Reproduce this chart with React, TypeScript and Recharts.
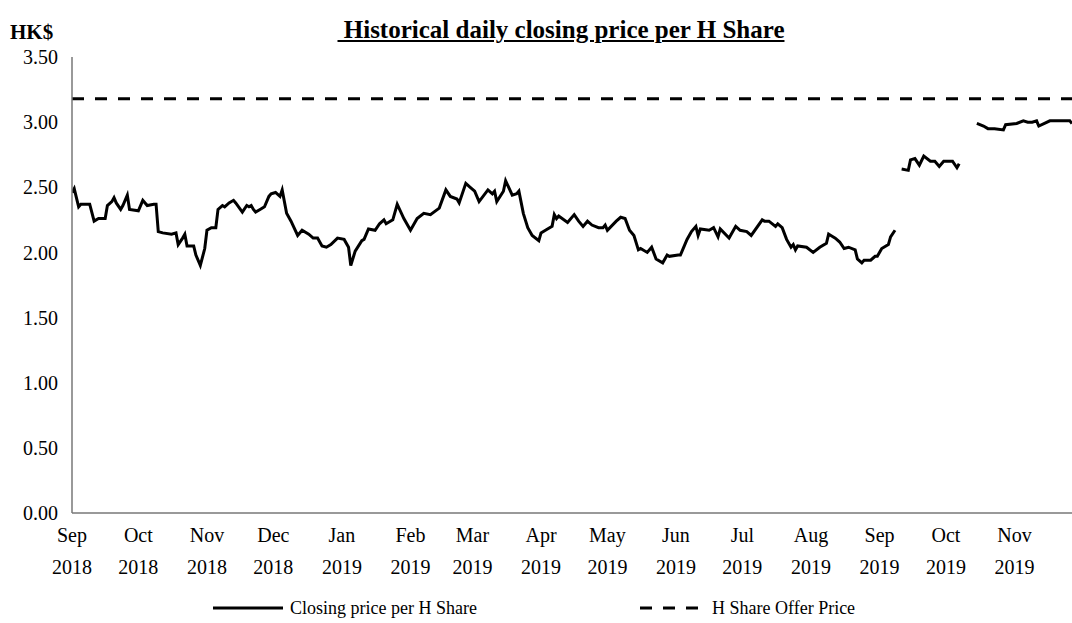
import React from "react";
import { LineChart, Line, XAxis, YAxis, ReferenceLine, Legend } from "recharts";

const FONT = "'Liberation Serif', 'Times New Roman', serif";

// closing price per H share (null = no trading / gap)
const DATES = [
  "2018-09-01", "2018-09-02", "2018-09-04", "2018-09-05", "2018-09-09", "2018-09-11", "2018-09-13", "2018-09-16",
  "2018-09-17", "2018-09-19", "2018-09-20", "2018-09-21", "2018-09-23", "2018-09-24", "2018-09-26", "2018-09-27",
  "2018-10-01", "2018-10-03", "2018-10-05", "2018-10-08", "2018-10-09", "2018-10-10", "2018-10-12", "2018-10-16",
  "2018-10-18", "2018-10-19", "2018-10-21", "2018-10-22", "2018-10-23", "2018-10-26", "2018-10-27", "2018-10-29",
  "2018-10-31", "2018-11-01", "2018-11-03", "2018-11-05", "2018-11-06", "2018-11-08", "2018-11-09", "2018-11-11",
  "2018-11-13", "2018-11-14", "2018-11-17", "2018-11-19", "2018-11-20", "2018-11-21", "2018-11-22", "2018-11-23",
  "2018-11-25", "2018-11-27", "2018-11-29", "2018-11-30", "2018-12-02", "2018-12-04", "2018-12-05", "2018-12-07",
  "2018-12-09", "2018-12-12", "2018-12-14", "2018-12-17", "2018-12-19", "2018-12-21", "2018-12-23", "2018-12-25",
  "2018-12-27", "2018-12-30", "2019-01-02", "2019-01-04", "2019-01-05", "2019-01-07", "2019-01-10", "2019-01-11",
  "2019-01-13", "2019-01-16", "2019-01-18", "2019-01-20", "2019-01-21", "2019-01-24", "2019-01-26", "2019-01-29",
  "2019-02-01", "2019-02-04", "2019-02-07", "2019-02-10", "2019-02-14", "2019-02-17", "2019-02-19", "2019-02-22",
  "2019-02-23", "2019-02-26", "2019-02-28", "2019-03-02", "2019-03-04", "2019-03-08", "2019-03-10", "2019-03-11",
  "2019-03-12", "2019-03-15", "2019-03-16", "2019-03-19", "2019-03-21", "2019-03-22", "2019-03-24", "2019-03-26",
  "2019-03-28", "2019-03-31", "2019-04-01", "2019-04-03", "2019-04-06", "2019-04-07", "2019-04-08", "2019-04-09",
  "2019-04-13", "2019-04-16", "2019-04-18", "2019-04-20", "2019-04-22", "2019-04-24", "2019-04-27", "2019-04-29",
  "2019-04-30", "2019-05-01", "2019-05-05", "2019-05-07", "2019-05-09", "2019-05-11", "2019-05-13", "2019-05-15",
  "2019-05-16", "2019-05-19", "2019-05-21", "2019-05-23", "2019-05-26", "2019-05-28", "2019-05-29", "2019-06-02",
  "2019-06-03", "2019-06-04", "2019-06-06", "2019-06-08", "2019-06-10", "2019-06-11", "2019-06-12", "2019-06-16",
  "2019-06-18", "2019-06-20", "2019-06-21", "2019-06-25", "2019-06-28", "2019-06-30", "2019-07-03", "2019-07-05",
  "2019-07-10", "2019-07-11", "2019-07-13", "2019-07-16", "2019-07-17", "2019-07-19", "2019-07-21", "2019-07-23",
  "2019-07-24", "2019-07-25", "2019-07-26", "2019-07-30", "2019-08-02", "2019-08-05", "2019-08-08", "2019-08-09",
  "2019-08-10", "2019-08-12", "2019-08-14", "2019-08-16", "2019-08-18", "2019-08-21", "2019-08-22", "2019-08-24",
  "2019-08-25", "2019-08-28", "2019-08-30", "2019-08-31", "2019-09-02", "2019-09-05", "2019-09-06", "2019-09-08",
  "2019-09-09",
  "2019-09-11", "2019-09-14", "2019-09-15", "2019-09-17", "2019-09-19", "2019-09-21", "2019-09-24", "2019-09-26",
  "2019-09-28", "2019-09-30", "2019-10-03", "2019-10-04", "2019-10-06", "2019-10-07",
  "2019-10-10",
  "2019-10-15", "2019-10-18", "2019-10-20", "2019-10-23", "2019-10-27", "2019-10-28", "2019-11-02", "2019-11-05",
  "2019-11-07", "2019-11-09", "2019-11-11", "2019-11-12", "2019-11-17", "2019-11-26", "2019-11-27",
];

const PRICES = [
  2.46, 2.49, 2.35, 2.37, 2.37, 2.24, 2.26, 2.26,
  2.36, 2.39, 2.42, 2.38, 2.33, 2.36, 2.44, 2.33,
  2.32, 2.40, 2.36, 2.37, 2.37, 2.16, 2.15, 2.14,
  2.15, 2.06, 2.11, 2.14, 2.05, 2.05, 1.98, 1.90,
  2.03, 2.17, 2.19, 2.19, 2.33, 2.36, 2.35, 2.38,
  2.40, 2.38, 2.31, 2.36, 2.35, 2.36, 2.33, 2.31,
  2.33, 2.35, 2.43, 2.45, 2.46, 2.43, 2.48, 2.30,
  2.24, 2.13, 2.17, 2.14, 2.11, 2.11, 2.05, 2.04,
  2.06, 2.11, 2.10, 2.04, 1.90, 2.01, 2.09, 2.10,
  2.18, 2.17, 2.22, 2.25, 2.22, 2.25, 2.37, 2.26,
  2.17, 2.26, 2.30, 2.29, 2.34, 2.48, 2.43, 2.41,
  2.38, 2.53, 2.50, 2.47, 2.39, 2.48, 2.45, 2.47,
  2.39, 2.47, 2.55, 2.44, 2.45, 2.47, 2.30, 2.19,
  2.13, 2.09, 2.15, 2.17, 2.20, 2.29, 2.26, 2.28,
  2.23, 2.29, 2.24, 2.20, 2.24, 2.21, 2.19, 2.19,
  2.21, 2.17, 2.24, 2.27, 2.26, 2.17, 2.13, 2.02,
  2.03, 2.00, 2.04, 1.95, 1.92, 1.98, 1.97, 1.98,
  1.98, 2.02, 2.10, 2.16, 2.20, 2.13, 2.18, 2.17,
  2.19, 2.12, 2.18, 2.11, 2.20, 2.17, 2.16, 2.13,
  2.25, 2.24, 2.24, 2.20, 2.22, 2.19, 2.10, 2.04,
  2.06, 2.02, 2.05, 2.04, 2.00, 2.04, 2.07, 2.14,
  2.13, 2.11, 2.08, 2.03, 2.04, 2.02, 1.95, 1.92,
  1.94, 1.94, 1.97, 1.97, 2.03, 2.06, 2.12, 2.17,
  null,
  2.64, 2.63, 2.71, 2.72, 2.67, 2.74, 2.70, 2.70,
  2.66, 2.70, 2.70, 2.70, 2.65, 2.68,
  null,
  2.99, 2.97, 2.95, 2.95, 2.94, 2.98, 2.99, 3.01,
  3.00, 3.00, 3.01, 2.97, 3.01, 3.01, 2.99,
];

const OFFER_PRICE = 3.18;

const MONTH_STARTS = [
  "2018-09-01", "2018-10-01", "2018-11-01", "2018-12-01", "2019-01-01", "2019-02-01", "2019-03-01", "2019-04-01",
  "2019-05-01", "2019-06-01", "2019-07-01", "2019-08-01", "2019-09-01", "2019-10-01", "2019-11-01",
];
const MONTH_LABELS = ["Sep", "Oct", "Nov", "Dec", "Jan", "Feb", "Mar", "Apr", "May", "Jun", "Jul", "Aug", "Sep", "Oct", "Nov"];
const YEAR_LABELS = [
  "2018", "2018", "2018", "2018", "2019", "2019", "2019", "2019", "2019", "2019", "2019", "2019", "2019", "2019", "2019",
];
const Y_TICKS = [0, 0.5, 1, 1.5, 2, 2.5, 3, 3.5];

const toTime = (s: string) => Date.parse(s + "T00:00:00Z");

const data = DATES.map((d, i) => ({ t: toTime(d), price: PRICES[i] }));
const xTicks = MONTH_STARTS.map(toTime);
const xDomain = [toTime("2018-09-01"), toTime("2019-11-27")];

const MonthTick = (props: any) => {
  const { x, y, index } = props;
  return (
    <text x={x} y={y} textAnchor="middle" fill="#000" fontFamily={FONT} fontSize={20}>
      <tspan x={x} dy={29}>{MONTH_LABELS[index]}</tspan>
      <tspan x={x} dy={32}>{YEAR_LABELS[index]}</tspan>
    </text>
  );
};

const LegendBox = () => (
  <svg width={1072} height={30}>
    <line x1={213} y1={15} x2={283} y2={15} stroke="#000" strokeWidth={3} />
    <text x={290} y={21} fontFamily={FONT} fontSize={18} fill="#000">Closing price per H Share</text>
    <line x1={640} y1={15} x2={698} y2={15} stroke="#000" strokeWidth={3} strokeDasharray="12 11" />
    <text x={712} y={21} fontFamily={FONT} fontSize={18} fill="#000">H Share Offer Price</text>
  </svg>
);

export default function App() {
  return (
    <div style={{ position: "absolute", left: 0, top: 0, width: 1072, height: 623, background: "#fff" }}>
      <div
        style={{
          position: "absolute", left: 10, top: 20, fontFamily: FONT, fontWeight: "bold", fontSize: 21,
        }}
      >
        HK$
      </div>
      <div
        style={{
          position: "absolute", left: 0, width: 1122, top: 16, textAlign: "center",
          fontFamily: FONT, fontWeight: "bold", fontSize: 25, textDecoration: "underline",
          whiteSpace: "pre",
        }}
      >
        {" Historical daily closing price per H Share"}
      </div>
      <LineChart width={1072} height={623} data={data} margin={{ top: 57, right: 0, left: 0, bottom: 0 }}>
        <XAxis
          dataKey="t"
          type="number"
          domain={xDomain}
          ticks={xTicks}
          interval={0}
          tick={<MonthTick />}
          tickLine={false}
          tickSize={0}
          tickMargin={0}
          height={80}
          axisLine={{ stroke: "#777", strokeWidth: 1.5 }}
          allowDataOverflow
        />
        <YAxis
          domain={[0, 3.5]}
          ticks={Y_TICKS}
          interval={0}
          width={72}
          tickLine={false}
          tickSize={0}
          tickMargin={14}
          tickFormatter={(v: number) => v.toFixed(2)}
          tick={{ fill: "#000", fontFamily: FONT, fontSize: 20 }}
          axisLine={{ stroke: "#777", strokeWidth: 1.5 }}
        />
        <ReferenceLine y={OFFER_PRICE} stroke="#000" strokeWidth={3} strokeDasharray="12 11" />
        <Line
          type="linear"
          dataKey="price"
          stroke="#000"
          strokeWidth={3}
          dot={false}
          connectNulls={false}
          isAnimationActive={false}
        />
        <Legend verticalAlign="bottom" content={<LegendBox />} wrapperStyle={{ left: 0, width: 1072, height: 30 }} />
      </LineChart>
    </div>
  );
}
